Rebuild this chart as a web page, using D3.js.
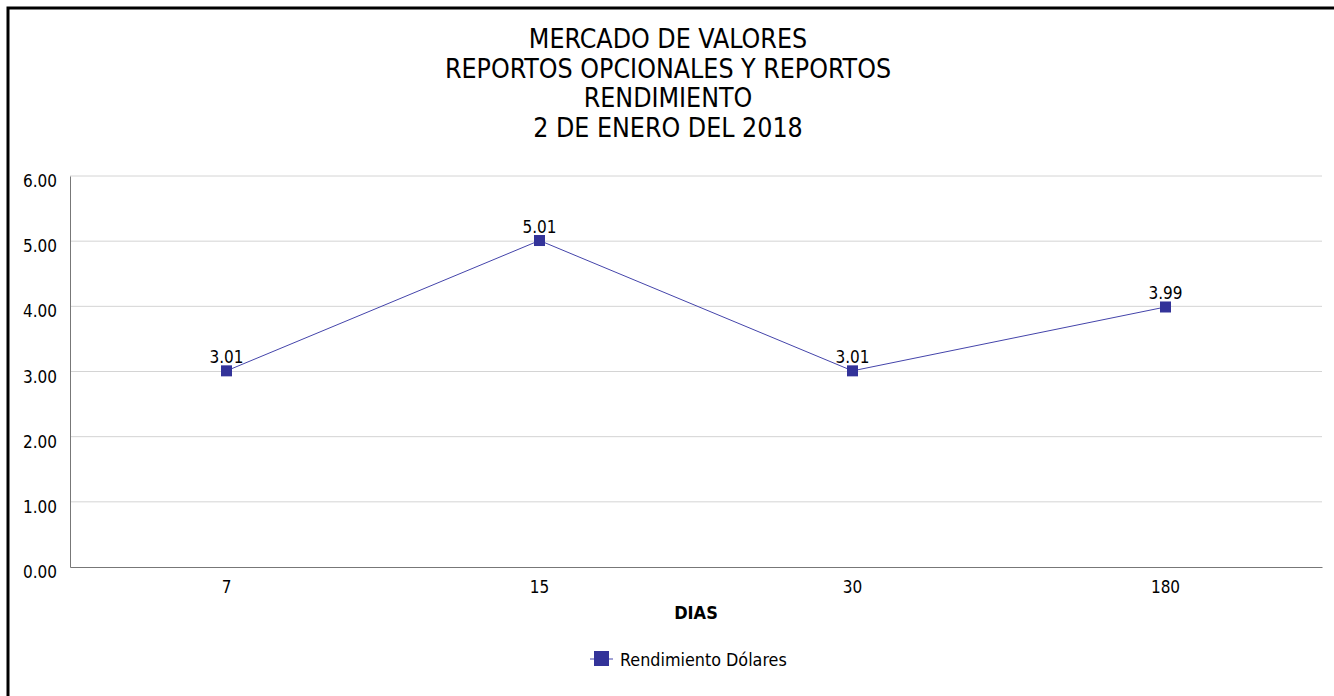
<!DOCTYPE html>
<html>
<head>
<meta charset="utf-8">
<script src="https://cdn.jsdelivr.net/npm/d3@7"></script>
<style>
  body { margin: 0; background: #fff; }
  svg text { font-family: "DejaVu Sans Condensed", "DejaVu Sans", sans-serif; fill: #000; }
</style>
</head>
<body>
<div id="chart"></div>
<script>
// data
var titleLines = ["MERCADO DE VALORES", "REPORTOS OPCIONALES Y REPORTOS", "RENDIMIENTO", "2 DE ENERO DEL 2018"];
var dias = ["7", "15", "30", "180"];
var rendimiento = [3.01, 5.01, 3.01, 3.99];
var yTicks = [0, 1, 2, 3, 4, 5, 6];
var seriesName = "Rendimiento Dólares";
var xTitle = "DIAS";

var svgWidth = 1334;
var svgHeight = 696;

var margin = { top: 176, right: 12, bottom: 129, left: 70 };
var width = 1322 - margin.left;
var height = 567 - margin.top;

var svg = d3.select("#chart")
  .append("svg")
  .attr("width", svgWidth)
  .attr("height", svgHeight);

// outer frame (only top and left show in the picture)
svg.append("rect")
  .attr("x", 8).attr("y", 8)
  .attr("width", svgWidth + 20).attr("height", svgHeight + 20)
  .attr("fill", "none")
  .attr("stroke", "#000")
  .attr("stroke-width", 3);

// title
svg.append("g").selectAll("text")
  .data(titleLines)
  .enter()
  .append("text")
  .attr("x", 668)
  .attr("y", (d, i) => 48 + i * 29.5)
  .attr("text-anchor", "middle")
  .style("font-size", "26.5px")
  .text(d => d);

var chartGroup = svg.append("g")
  .attr("transform", `translate(${margin.left}, ${margin.top})`);

var xScale = d3.scaleBand()
  .domain(dias)
  .range([0, width]);

var yScale = d3.scaleLinear()
  .domain([0, 6])
  .range([height, 0]);

// gridlines
chartGroup.append("g")
  .selectAll("line")
  .data(yTicks.filter(d => d > 0))
  .enter()
  .append("line")
  .attr("x1", 0).attr("x2", width)
  .attr("y1", d => yScale(d)).attr("y2", d => yScale(d))
  .attr("stroke", "#d4d4d4")
  .attr("stroke-width", 1);

// axes
var leftAxis = d3.axisLeft(yScale)
  .tickValues(yTicks)
  .tickFormat(d3.format(".2f"))
  .tickSize(0)
  .tickPadding(13);

var bottomAxis = d3.axisBottom(xScale)
  .tickSize(0)
  .tickPadding(14);

var yAxisG = chartGroup.append("g").call(leftAxis);
yAxisG.select(".domain").attr("stroke", "#777");
yAxisG.selectAll("text").style("font-size", "17px").attr("dy", "0.62em");

var xAxisG = chartGroup.append("g")
  .attr("transform", `translate(0, ${height})`)
  .call(bottomAxis);
xAxisG.select(".domain").attr("stroke", "#777");
xAxisG.selectAll("text").style("font-size", "17px");

// x axis title
chartGroup.append("text")
  .attr("x", width / 2)
  .attr("y", height + 52)
  .attr("text-anchor", "middle")
  .style("font-size", "18px")
  .style("font-weight", "bold")
  .text(xTitle);

// line
var line = d3.line()
  .x((d, i) => xScale(dias[i]) + xScale.bandwidth() / 2)
  .y(d => yScale(d));

chartGroup.append("path")
  .datum(rendimiento)
  .attr("d", line)
  .attr("fill", "none")
  .attr("stroke", "#4444aa")
  .attr("stroke-width", 1);

// markers
chartGroup.selectAll("rect.marker")
  .data(rendimiento)
  .enter()
  .append("rect")
  .attr("class", "marker")
  .attr("x", (d, i) => xScale(dias[i]) + xScale.bandwidth() / 2 - 5.5)
  .attr("y", d => yScale(d) - 5.5)
  .attr("width", 11)
  .attr("height", 11)
  .attr("fill", "#333399");

// value labels
chartGroup.selectAll("text.val")
  .data(rendimiento)
  .enter()
  .append("text")
  .attr("class", "val")
  .attr("x", (d, i) => xScale(dias[i]) + xScale.bandwidth() / 2)
  .attr("y", d => yScale(d) - 8)
  .attr("text-anchor", "middle")
  .style("font-size", "17px")
  .text(d => d.toFixed(2));

// legend
var legend = svg.append("g")
  .attr("transform", "translate(590, 659)");
legend.append("line")
  .attr("x1", 0).attr("x2", 23)
  .attr("y1", 0).attr("y2", 0)
  .attr("stroke", "#4444aa");
legend.append("rect")
  .attr("x", 4).attr("y", -8)
  .attr("width", 15).attr("height", 15)
  .attr("fill", "#333399");
legend.append("text")
  .attr("x", 30)
  .attr("y", 6.5)
  .style("font-size", "17.8px")
  .text(seriesName);
</script>
</body>
</html>
